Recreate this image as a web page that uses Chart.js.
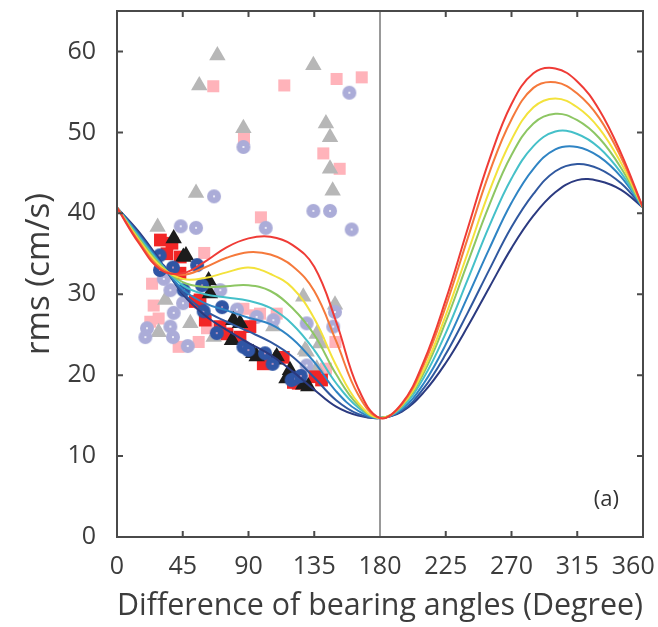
<!DOCTYPE html>
<html>
<head>
<meta charset="utf-8">
<script src="https://cdn.jsdelivr.net/npm/chart.js@4.4.1/dist/chart.umd.min.js"></script>
<style>
  html, body { margin: 0; padding: 0; background: #fff; }
  #wrap { width: 658px; height: 627px; }
</style>
</head>
<body>
<div id="wrap"><canvas id="rmsChart" width="658" height="627"></canvas></div>
<script>
// x ticks / y ticks
const xTicks = [0, 45, 90, 135, 180, 225, 270, 315, 360];
const yTicks = [0, 10, 20, 30, 40, 50, 60];

// model curves, sampled every 15 degrees
const angles = [0, 15, 30, 45, 60, 75, 90, 105, 120, 135, 150, 165, 180,
                195, 210, 225, 240, 255, 270, 285, 300, 315, 330, 345, 360];
const curveRed    = [40.7, 36.3, 33.0, 32.6, 34.0, 35.8, 36.9, 37.1, 36.1, 33.4, 26.6, 18.4, 14.7, 16.5, 21.7, 29.3, 38.1, 46.7, 53.5, 57.3, 57.9, 56.3, 52.8, 47.4, 40.7];
const curveOrange = [40.7, 36.5, 33.2, 32.4, 33.3, 34.5, 35.2, 34.9, 33.5, 30.4, 24.2, 17.6, 14.7, 16.4, 21.3, 28.5, 36.9, 45.1, 51.6, 55.5, 56.2, 54.8, 51.8, 46.9, 40.7];
const curveYellow = [40.7, 36.7, 33.4, 31.9, 32.0, 32.7, 33.3, 32.5, 30.8, 27.0, 21.2, 16.6, 14.7, 16.3, 20.7, 27.4, 35.1, 42.8, 49.1, 53.1, 54.2, 53.1, 50.5, 46.2, 40.7];
const curveGreen  = [40.7, 36.9, 33.6, 31.5, 30.9, 31.0, 31.1, 30.4, 28.3, 25.0, 20.1, 16.3, 14.7, 16.2, 20.3, 26.6, 33.9, 41.1, 47.2, 51.1, 52.3, 51.5, 49.3, 45.6, 40.7];
const curveCyan   = [40.7, 37.1, 33.7, 31.1, 30.0, 29.6, 29.2, 28.3, 26.3, 23.1, 19.0, 16.0, 14.7, 16.0, 19.7, 25.2, 31.8, 38.5, 44.3, 48.3, 50.1, 49.8, 48.1, 45.0, 40.7];
const curveBlue   = [40.7, 37.3, 33.8, 30.6, 28.9, 28.0, 27.1, 26.3, 24.5, 21.6, 18.0, 15.6, 14.7, 15.8, 19.0, 23.8, 29.7, 35.7, 41.3, 45.5, 47.9, 48.2, 47.0, 44.5, 40.7];
const curveDkBlue = [40.7, 37.5, 33.9, 30.2, 28.0, 26.6, 25.4, 24.1, 22.3, 19.7, 16.9, 15.2, 14.7, 15.6, 18.4, 22.6, 27.7, 33.1, 38.3, 42.4, 45.2, 46.1, 45.5, 43.7, 40.7];
const curveNavy   = [40.7, 37.7, 34.0, 30.0, 27.4, 25.6, 24.0, 22.5, 20.5, 18.2, 16.1, 15.0, 14.7, 15.5, 17.9, 21.5, 26.0, 30.9, 35.7, 39.7, 42.6, 44.1, 44.0, 42.9, 40.7];

// observations (angle, rms)
const pinkX = [65.9, 114.5, 150.3, 167.5, 86.9, 141.2, 152.4, 98.5, 59.7, 24.0, 25.1, 28.5, 22.8, 42.2, 55.9, 61.6, 57.0, 86.5, 97.9, 109.3, 149.5, 143.0, 94.5];
const pinkY = [55.7, 55.8, 56.6, 56.8, 49.2, 47.4, 45.5, 39.5, 35.1, 31.3, 28.6, 27.0, 26.6, 23.5, 24.1, 25.8, 28.9, 28.2, 27.6, 27.6, 24.1, 20.8, 27.4];

const grayX = [68.7, 56.3, 86.5, 134.4, 143.0, 145.8, 145.8, 147.6, 54.1, 27.8, 33.1, 50.2, 66.2, 28.5, 127.5, 149.2, 107.0, 129.8, 138.9, 136.7, 136.7, 128.7];
const grayY = [59.5, 55.8, 50.5, 58.3, 51.1, 49.4, 45.5, 42.8, 42.5, 38.3, 29.3, 26.4, 24.7, 25.3, 29.7, 28.7, 26.0, 22.9, 23.9, 20.8, 25.1, 23.1];

const lavX = [159.0, 86.5, 66.4, 134.4, 145.8, 160.6, 101.8, 43.6, 54.1, 32.0, 36.5, 45.2, 38.8, 20.5, 19.4, 36.5, 38.3, 48.4, 70.7, 82.1, 95.6, 107.0, 149.2, 129.8, 148.0, 129.8];
const lavY = [54.9, 48.2, 42.1, 40.3, 40.3, 38.0, 38.2, 38.4, 38.2, 31.9, 30.5, 28.9, 27.7, 25.8, 24.7, 26.0, 24.7, 23.6, 30.5, 28.1, 27.2, 26.8, 27.8, 26.4, 26.0, 21.2];

const redX = [29.7, 37.6, 34.2, 43.3, 43.1, 53.6, 56.8, 60.4, 70.5, 75.3, 84.2, 91.0, 100.1, 113.8, 120.7, 124.0, 135.5, 140.0];
const redY = [36.7, 36.3, 35.0, 34.6, 32.6, 29.1, 29.3, 26.8, 26.0, 25.1, 24.7, 26.0, 21.4, 22.2, 19.1, 19.0, 19.8, 19.4];

const blackX = [38.8, 45.4, 47.2, 62.7, 63.6, 79.6, 78.7, 84.2, 93.3, 95.6, 108.0, 109.3, 116.0, 118.4, 127.5, 130.9];
const blackY = [36.9, 34.6, 34.8, 31.7, 30.1, 26.8, 24.3, 26.4, 22.7, 22.3, 21.9, 22.3, 19.6, 20.6, 18.8, 18.6];

const blueX = [29.2, 38.3, 54.8, 45.6, 58.2, 59.3, 71.9, 68.3, 86.5, 89.9, 101.3, 106.5, 119.5, 121.8, 125.8, 29.4];
const blueY = [34.8, 33.3, 33.6, 30.5, 31.1, 27.9, 28.4, 25.2, 23.5, 23.1, 22.7, 21.4, 19.4, 19.6, 19.9, 33.0];

function pts(xs, ys) {
    return xs.map((x, i) => ({ x: x, y: ys[i] }));
}

// circle marker with a tiny dot in the middle
function dotMarker(fill, dot, r) {
    const c = document.createElement('canvas');
    c.width = c.height = r * 2 + 2;
    const g = c.getContext('2d');
    g.fillStyle = fill;
    g.beginPath();
    g.arc(r + 1, r + 1, r, 0, Math.PI * 2);
    g.fill();
    g.fillStyle = dot;
    g.beginPath();
    g.arc(r + 1, r + 1, 1, 0, Math.PI * 2);
    g.fill();
    return c;
}

function curve(label, values, color) {
    return {
        label: label,
        data: pts(angles, values),
        showLine: true,
        borderColor: color,
        borderWidth: 2,
        pointRadius: 0,
        tension: 0.4,
        order: 0
    };
}

function markers(label, xs, ys, style, color, radius, order) {
    return {
        label: label,
        data: pts(xs, ys),
        showLine: false,
        pointStyle: style,
        pointRadius: radius,
        pointBackgroundColor: color,
        pointBorderWidth: 0,
        borderColor: color,
        order: order
    };
}

const frame = {
    id: 'frame',
    beforeDatasetsDraw(chart) {
        const { ctx, chartArea: a, scales: { x } } = chart;
        const px = Math.round(x.getPixelForValue(180));
        ctx.save();
        ctx.strokeStyle = '#999999';
        ctx.lineWidth = 2;
        ctx.beginPath();
        ctx.moveTo(px, a.top);
        ctx.lineTo(px, a.bottom);
        ctx.stroke();
        ctx.restore();
    },
    afterDatasetsDraw(chart) {
        const { ctx, chartArea: a, scales: { x, y } } = chart;
        ctx.save();
        ctx.strokeStyle = '#4a4a4a';
        ctx.lineWidth = 2;
        ctx.strokeRect(a.left, a.top, a.right - a.left, a.bottom - a.top);
        ctx.beginPath();
        xTicks.forEach(v => {
            if (v === 0 || v === 180 || v === 360) return;
            const px = x.getPixelForValue(v);
            ctx.moveTo(px, a.bottom); ctx.lineTo(px, a.bottom - 6);
            ctx.moveTo(px, a.top); ctx.lineTo(px, a.top + 6);
        });
        yTicks.forEach(v => {
            if (v === 0) return;
            const py = y.getPixelForValue(v);
            ctx.moveTo(a.left, py); ctx.lineTo(a.left + 6, py);
            ctx.moveTo(a.right, py); ctx.lineTo(a.right - 6, py);
        });
        ctx.stroke();
        ctx.fillStyle = '#333';
        ctx.font = '22px "Open Sans"';
        ctx.textAlign = 'right';
        ctx.textBaseline = 'middle';
        ctx.fillText('(a)', a.right - 24, a.bottom - 37);
        ctx.restore();
    }
};

const tickFont = { family: '"Open Sans", sans-serif', size: 25 };

new Chart(document.getElementById('rmsChart'), {
    type: 'scatter',
    data: {
        datasets: [
            curve('c1', curveRed, '#ef3b36'),
            curve('c2', curveOrange, '#f5793b'),
            curve('c3', curveYellow, '#f3e23c'),
            curve('c4', curveGreen, '#8dc663'),
            curve('c5', curveCyan, '#45c0c9'),
            curve('c6', curveBlue, '#2f84c4'),
            curve('c7', curveDkBlue, '#30589f'),
            curve('c8', curveNavy, '#2b3a80'),
            markers('blue', blueX, blueY, dotMarker('#2f55a4', '#d9a0c0', 7), '#2f55a4', 7, 1),
            markers('black', blackX, blackY, 'triangle', '#1c1c1c', 9.5, 2),
            markers('red', redX, redY, 'rect', '#f22626', 9, 3),
            markers('lavender', lavX, lavY, dotMarker('#abacd8', '#ffffff', 7), '#abacd8', 7, 4),
            markers('gray', grayX, grayY, 'triangle', '#b7b7b7', 9.5, 5),
            markers('pink', pinkX, pinkY, 'rect', '#ffb3ba', 8.5, 6)
        ]
    },
    options: {
        responsive: false,
        animation: false,
        devicePixelRatio: 1,
        layout: { padding: { left: 0, right: 15, top: 11, bottom: 0 } },
        plugins: {
            legend: { display: false },
            tooltip: { enabled: false }
        },
        scales: {
            x: {
                type: 'linear',
                min: 0,
                max: 360,
                afterBuildTicks: s => { s.ticks = xTicks.map(v => ({ value: v })); },
                afterFit: s => { s.height = 90; s.paddingLeft = 0; s.paddingRight = 0; },
                grid: { display: false, drawTicks: false },
                border: { display: false },
                ticks: {
                    font: tickFont,
                    color: '#3c3c3c',
                    padding: 15,
                    maxRotation: 0,
                    // last label sits a little inside the frame, as in the source
                    callback: v => (v === 360 ? '360   ' : String(v))
                },
                title: {
                    display: true,
                    text: 'Difference of bearing angles (Degree)',
                    font: { family: '"Open Sans", sans-serif', size: 31 },
                    color: '#3c3c3c',
                    padding: { top: 0, bottom: 2 }
                }
            },
            y: {
                type: 'linear',
                min: 0,
                max: 65,
                afterBuildTicks: s => { s.ticks = yTicks.map(v => ({ value: v })); },
                afterFit: s => { s.width = 117; s.paddingTop = 0; s.paddingBottom = 0; },
                grid: { display: false, drawTicks: false },
                border: { display: false },
                ticks: { font: tickFont, color: '#3c3c3c', padding: 21 },
                title: {
                    display: true,
                    text: 'rms (cm/s)',
                    font: { family: '"Open Sans", sans-serif', size: 33 },
                    color: '#3c3c3c',
                    padding: { top: 20, bottom: 0 }
                }
            }
        }
    },
    plugins: [frame]
});
</script>
</body>
</html>
